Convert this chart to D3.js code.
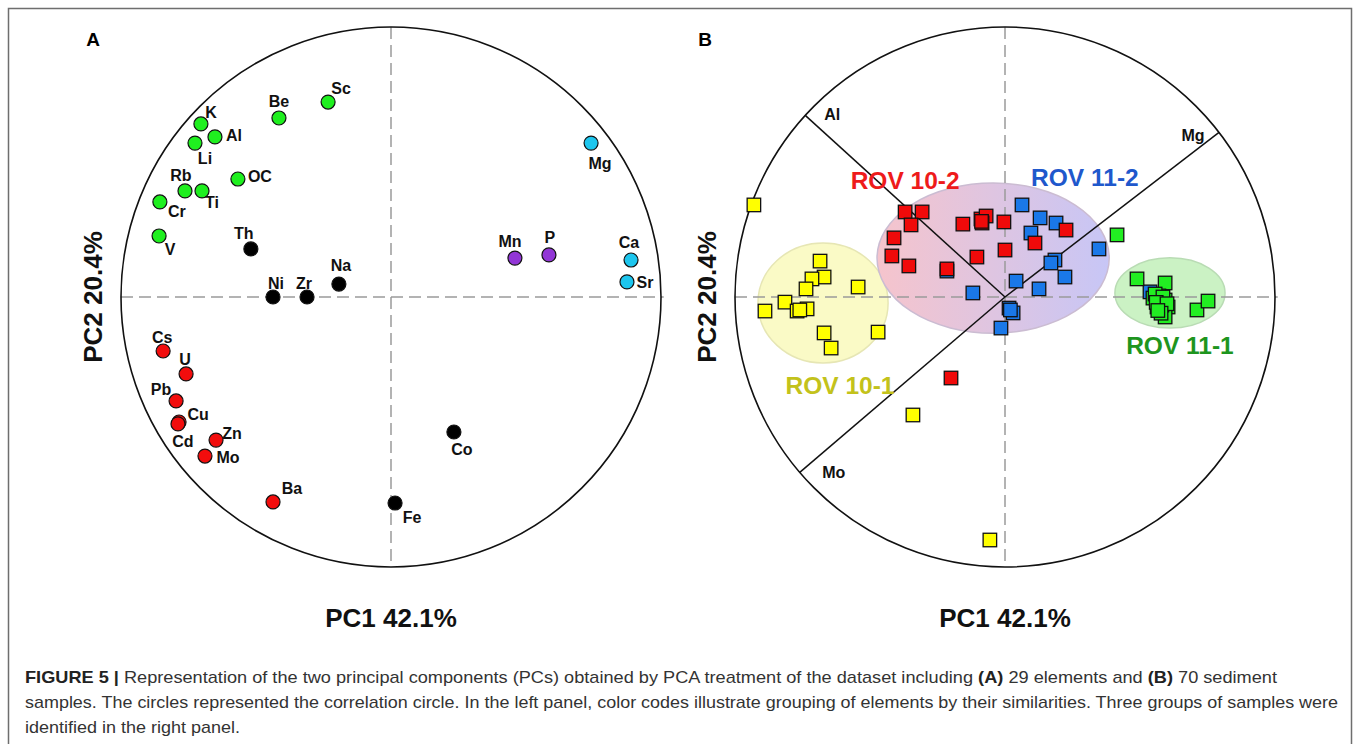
<!DOCTYPE html>
<html lang="en">
<head>
<meta charset="UTF-8">
<title>Figure 5 - PCA</title>
<script src="https://cdn.jsdelivr.net/npm/d3@7"></script>
<style>
    body { margin: 0; background: #fff; }
    svg { font-family: "Liberation Sans", Arial, sans-serif; }
    .lab { font-size: 16px; font-weight: bold; fill: #111; }
    .axt { font-size: 26px; font-weight: bold; fill: #111; }
    .panel { font-size: 19px; font-weight: bold; fill: #000; }
    .zero { stroke: #9a9a9a; stroke-width: 1.5; stroke-dasharray: 12 6; fill: none; }
    .circ { fill: none; stroke: #111; stroke-width: 1.6; }
    .cap { font-size: 17px; fill: #333; }
</style>
</head>
<body>
<div id="chart"></div>
<script>
// panel A: element loadings on PC1 / PC2
const elements = ["Sc","Be","K","Al","Li","OC","Rb","Ti","Cr","V",
                  "Th","Ni","Zr","Na","Co","Fe",
                  "Cs","U","Pb","Cu","Cd","Zn","Mo","Ba",
                  "Mg","Ca","Sr","Mn","P"];
const pc1 = [-0.233,-0.415,-0.704,-0.652,-0.726,-0.567,-0.763,-0.700,-0.856,-0.859,
             -0.519,-0.437,-0.311,-0.193, 0.233, 0.015,
             -0.844,-0.759,-0.796,-0.785,-0.789,-0.648,-0.689,-0.437,
              0.741, 0.889, 0.874, 0.459, 0.585];
const pc2 = [ 0.722, 0.663, 0.641, 0.593, 0.570, 0.437, 0.393, 0.393, 0.352, 0.226,
              0.178, 0.000, 0.000, 0.048,-0.500,-0.763,
             -0.200,-0.285,-0.385,-0.463,-0.470,-0.530,-0.589,-0.759,
              0.570, 0.137, 0.056, 0.144, 0.156];
const elemGroup = ["g","g","g","g","g","g","g","g","g","g",
                   "k","k","k","k","k","k",
                   "r","r","r","r","r","r","r","r",
                   "c","c","c","p","p"];

// panel B: sample scores, by group
const rov101_s1 = [-0.930,-0.685,-0.670,-0.715,-0.544,-0.737,-0.815,-0.770,-0.733,-0.889,-0.670,-0.470,-0.644,-0.341,-0.056,-0.760];
const rov101_s2 = [ 0.341, 0.133, 0.074, 0.067, 0.037, 0.030,-0.019,-0.052,-0.044,-0.052,-0.133,-0.130,-0.189,-0.437,-0.900,-0.048];
const rov102_s1 = [-0.370,-0.307,-0.348,-0.411,-0.419,-0.356,-0.215,-0.156,-0.089,-0.070,-0.085,-0.004,-0.104, 0.000, 0.226, 0.111,-0.200,-0.087];
const rov102_s2 = [ 0.315, 0.315, 0.267, 0.219, 0.152, 0.115, 0.104, 0.270, 0.289, 0.300, 0.274, 0.278, 0.148, 0.174, 0.248, 0.200,-0.300, 0.280];
const rov112_s1 = [ 0.063, 0.130, 0.189, 0.096, 0.348, 0.185, 0.170, 0.222, 0.041, 0.126,-0.119, 0.015, 0.030,-0.015,-0.215, 0.537, 0.020];
const rov112_s2 = [ 0.341, 0.293, 0.274, 0.237, 0.178, 0.137, 0.126, 0.074, 0.059, 0.030, 0.015,-0.041,-0.059,-0.115, 0.096, 0.019,-0.048];
const rov111_s1 = [ 0.415, 0.489, 0.593, 0.548, 0.570, 0.593, 0.563, 0.604, 0.593, 0.711, 0.752, 0.581, 0.556, 0.575, 0.585, 0.560, 0.600, 0.578, 0.566];
const rov111_s2 = [ 0.230, 0.067, 0.052,-0.004, 0.004,-0.011,-0.037,-0.037,-0.074,-0.048,-0.015,-0.030, 0.011,-0.022, 0.000,-0.020,-0.025,-0.060,-0.050];

// ellipses around each group (data units)
const groupNames = ["ROV 10-1","ROV 10-2","ROV 11-2","ROV 11-1"];
const ellCx = [-0.674,-0.044, 0.611];
const ellCy = [-0.022, 0.144, 0.015];
const ellRx = [ 0.241, 0.430, 0.204];
const ellRy = [ 0.222, 0.278, 0.130];
const groupLabX = [-0.611,-0.370, 0.296, 0.648];
const groupLabY = [-0.326, 0.430, 0.441,-0.178];

// element vectors drawn on the sample plot
const biplotVars = ["Al","Mg","Mo"];

const axisX = "PC1 42.1%", axisY = "PC2 20.4%";

// ---- layout / styles ----
const W = 1358, H = 744;
const R = 270;
const A = {cx: 391, cy: 297}, B = {cx: 1005, cy: 297};
const elemColor = {g: "#1fef1f", k: "#000", r: "#f20d0d", c: "#1dc6ee", p: "#9236d6"};
const sqFill = ["#ffff00", "#f00a0a", "#1a78e8", "#22ee22"];
const grpText = ["#c3c21b", "#ee1b1b", "#1f58cc", "#1e951e"];

const labOff = {
    Sc:[13,-14], Be:[0,-16], K:[10,-11], Al:[19,-1], Li:[10,15], OC:[22,-3], Rb:[-4,-15],
    Ti:[10,12], Cr:[17,10], V:[11,14], Th:[-7,-15], Ni:[3,-14], Zr:[-3,-14], Na:[2,-19],
    Co:[8,17], Fe:[17,14], Cs:[-1,-14], U:[-1,-14], Pb:[-15,-11], Cu:[19,-8], Cd:[5,18],
    Zn:[16,-7], Mo:[23,1], Ba:[19,-13], Mg:[9,20], Ca:[-2,-18], Sr:[18,1], Mn:[-5,-17], P:[1,-17]
};
const vecLabOff = {Al:[27,-1], Mg:[-26,3], Mo:[34,0]};

const svg = d3.select("#chart").append("svg").attr("width", W).attr("height", H);
svg.append("rect").attr("width", W).attr("height", H).attr("fill", "#fff");

// outer frame
svg.append("path")
    .attr("d", `M8.5,${H} V8.5 H1351.5 V${H}`)
    .attr("fill", "none").attr("stroke", "#6e6e6e").attr("stroke-width", 1.5);

function makePanel(c) {
    const x = d3.scaleLinear().domain([-1, 1]).range([c.cx - R, c.cx + R]);
    const y = d3.scaleLinear().domain([-1, 1]).range([c.cy + R, c.cy - R]);
    return {x, y};
}

function frame(g, sc, c, letter, letterX) {
    g.append("line").attr("class", "zero")
        .attr("x1", sc.x(-1)).attr("x2", sc.x(1.01)).attr("y1", sc.y(0)).attr("y2", sc.y(0));
    g.append("line").attr("class", "zero")
        .attr("x1", sc.x(0)).attr("x2", sc.x(0)).attr("y1", sc.y(1)).attr("y2", sc.y(-1));
    g.append("text").attr("class", "panel").attr("x", letterX).attr("y", 46)
        .attr("text-anchor", "middle").text(letter);
    g.append("text").attr("class", "axt").attr("x", c.cx).attr("y", 627)
        .attr("text-anchor", "middle").text(axisX);
    g.append("text").attr("class", "axt")
        .attr("transform", `translate(${c.cx - 289},${c.cy}) rotate(-90)`)
        .attr("text-anchor", "middle").text(axisY);
}

// ---------- panel A ----------
const sa = makePanel(A);
const gA = svg.append("g");
frame(gA, sa, A, "A", 93);
gA.append("circle").attr("class", "circ").attr("cx", sa.x(0)).attr("cy", sa.y(0))
    .attr("r", sa.x(1) - sa.x(0));

const elemData = elements.map((n, i) => ({name: n, x: pc1[i], y: pc2[i], g: elemGroup[i]}));
gA.selectAll("circle.el").data(elemData).enter().append("circle").attr("class", "el")
    .attr("cx", d => sa.x(d.x)).attr("cy", d => sa.y(d.y)).attr("r", 7)
    .attr("fill", d => elemColor[d.g]).attr("stroke", "#111").attr("stroke-width", 1.2);
gA.selectAll("text.lab").data(elemData).enter().append("text").attr("class", "lab")
    .attr("x", d => sa.x(d.x) + labOff[d.name][0])
    .attr("y", d => sa.y(d.y) + labOff[d.name][1])
    .attr("text-anchor", "middle").attr("dominant-baseline", "central")
    .text(d => d.name);

// ---------- panel B ----------
const sb = makePanel(B);
const gB = svg.append("g");

const defs = svg.append("defs");
const grad = defs.append("linearGradient").attr("id", "pinkblue")
    .attr("x1", "0%").attr("x2", "100%").attr("y1", "0%").attr("y2", "0%");
grad.append("stop").attr("offset", "0%").attr("stop-color", "#f6c4cc");
grad.append("stop").attr("offset", "100%").attr("stop-color", "#c7c6f6");

const ellFill = ["#fafac6", "url(#pinkblue)", "#cbf2c4"];
const ellStroke = ["#e6e6b4", "#cbbcd2", "#b9dcb4"];
gB.selectAll("ellipse").data(ellCx).enter().append("ellipse")
    .attr("cx", (d, i) => sb.x(d)).attr("cy", (d, i) => sb.y(ellCy[i]))
    .attr("rx", (d, i) => sb.x(ellRx[i]) - sb.x(0))
    .attr("ry", (d, i) => sb.y(0) - sb.y(ellRy[i]))
    .attr("fill", (d, i) => ellFill[i]).attr("stroke", (d, i) => ellStroke[i]).attr("stroke-width", 1.5);

frame(gB, sb, B, "B", 705);
gB.append("circle").attr("class", "circ").attr("cx", sb.x(0)).attr("cy", sb.y(0))
    .attr("r", sb.x(1) - sb.x(0));

// element vectors (unit length direction of the loadings)
const vecs = biplotVars.map(n => {
    const i = elements.indexOf(n);
    const len = Math.hypot(pc1[i], pc2[i]);
    return {name: n, x: pc1[i] / len, y: pc2[i] / len};
});
gB.selectAll("line.vec").data(vecs).enter().append("line").attr("class", "vec")
    .attr("x1", sb.x(0)).attr("y1", sb.y(0))
    .attr("x2", d => sb.x(d.x)).attr("y2", d => sb.y(d.y))
    .attr("stroke", "#111").attr("stroke-width", 1.5);
gB.selectAll("text.vlab").data(vecs).enter().append("text").attr("class", "vlab")
    .style("font-size", "16px").style("font-weight", "bold").attr("fill", "#111")
    .attr("x", d => sb.x(d.x) + vecLabOff[d.name][0])
    .attr("y", d => sb.y(d.y) + vecLabOff[d.name][1])
    .attr("text-anchor", "middle").attr("dominant-baseline", "central")
    .text(d => d.name);

// samples: draw order yellow, blue, red, green
const sampleSets = [
    {gi: 0, xs: rov101_s1, ys: rov101_s2},
    {gi: 2, xs: rov112_s1, ys: rov112_s2},
    {gi: 1, xs: rov102_s1, ys: rov102_s2},
    {gi: 3, xs: rov111_s1, ys: rov111_s2}
];
const S = 13.5;
sampleSets.forEach(set => {
    gB.append("g").selectAll("rect").data(set.xs.map((v, i) => [v, set.ys[i]]))
        .enter().append("rect")
        .attr("x", d => sb.x(d[0]) - S / 2).attr("y", d => sb.y(d[1]) - S / 2)
        .attr("width", S).attr("height", S)
        .attr("fill", sqFill[set.gi]).attr("stroke", "#111").attr("stroke-width", 1.3);
});

gB.selectAll("text.grp").data(groupNames).enter().append("text").attr("class", "grp")
    .attr("x", (d, i) => sb.x(groupLabX[i])).attr("y", (d, i) => sb.y(groupLabY[i]))
    .attr("text-anchor", "middle").attr("dominant-baseline", "central")
    .style("font-size", "24.5px").style("font-weight", "bold")
    .attr("fill", (d, i) => grpText[i]).text(d => d);

// ---------- caption ----------
const capLines = [
    [["FIGURE 5 | ", true], ["Representation of the two principal components (PCs) obtained by PCA treatment of the dataset including ", false],
     ["(A)", true], [" 29 elements and ", false], ["(B)", true], [" 70 sediment", false]],
    [["samples. The circles represented the correlation circle. In the left panel, color codes illustrate grouping of elements by their similarities. Three groups of samples were", false]],
    [["identified in the right panel.", false]]
];
const capLen = [1252, 1313, 215];
capLines.forEach((parts, li) => {
    const t = svg.append("text").attr("class", "cap").attr("x", 25).attr("y", 683 + li * 25)
        .attr("textLength", capLen[li]).attr("lengthAdjust", "spacingAndGlyphs");
    parts.forEach(p => {
        t.append("tspan").attr("font-weight", p[1] ? "bold" : null)
            .attr("fill", p[1] ? "#222" : null).text(p[0]);
    });
});
</script>
</body>
</html>
